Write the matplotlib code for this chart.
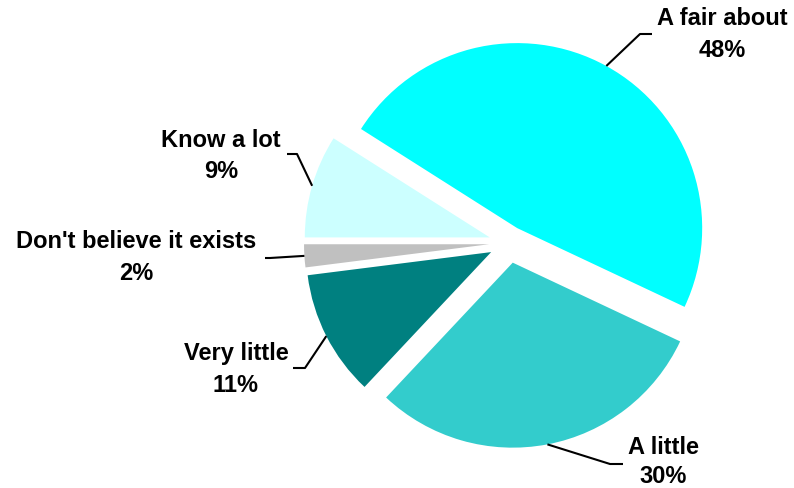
import matplotlib
matplotlib.use("Agg")
import numpy as np
import matplotlib.pyplot as plt

plt.rcParams['font.family'] = ['Liberation Sans', 'DejaVu Sans']

# survey answers, clockwise from 9 o'clock
labels = ['Know a lot', 'A fair about', 'A little', 'Very little',
          "Don't believe it exists"]
values = [9, 48, 30, 11, 2]
colors = ['#CCFFFF', '#00FFFF', '#33CCCC', '#008080', '#C0C0C0']

# layout in pixel units (figure is 794 x 488, y measured from the top)
W, H = 794, 488
PIE_CENTER = (509, H - 243)
PIE_RADIUS = 185
EXPLODE = [20, 17, 20, 20, 20]

# label text centre x, baseline of name, baseline of percent (from top)
label_pos = [(221, 147, 178), (722, 25, 57), (663, 454, 483),
             (236, 360, 392), (136, 248, 280)]
# leader elbow + end points (from top)
leader_pts = [[(297, 154), (287, 154)],
              [(640, 34), (652, 34)],
              [(610, 464), (623, 464)],
              [(305, 368), (293, 368)],
              [(270, 258), (265, 258)]]

fig = plt.figure(figsize=(W / 100, H / 100), dpi=100)
ax = fig.add_axes([0, 0, 1, 1])

wedges, _ = ax.pie(values, colors=colors, startangle=180, counterclock=False,
                   center=PIE_CENTER, radius=PIE_RADIUS, explode=EXPLODE,
                   wedgeprops=dict(linewidth=0, antialiased=True))
ax.set_xlim(0, W)
ax.set_ylim(0, H)
ax.set_aspect('equal')
ax.axis('off')

for w, name, val, (tx, b1, b2), pts in zip(wedges, labels, values,
                                            label_pos, leader_pts):
    # leader starts on the arc at the middle of the wedge
    tm = np.deg2rad((w.theta1 + w.theta2) / 2)
    cx, cy = w.center
    sx = cx + w.r * np.cos(tm)
    sy = cy + w.r * np.sin(tm)
    xs = [sx] + [p[0] for p in pts]
    ys = [sy] + [H - p[1] for p in pts]
    ax.plot(xs, ys, color='black', lw=1.5, solid_capstyle='butt')
    ax.text(tx, H - b1, name, ha='center', va='baseline',
            fontsize=17, fontweight='bold')
    ax.text(tx, H - b2, f'{val}%', ha='center', va='baseline',
            fontsize=17, fontweight='bold')

fig.savefig('out.png', dpi=100)
